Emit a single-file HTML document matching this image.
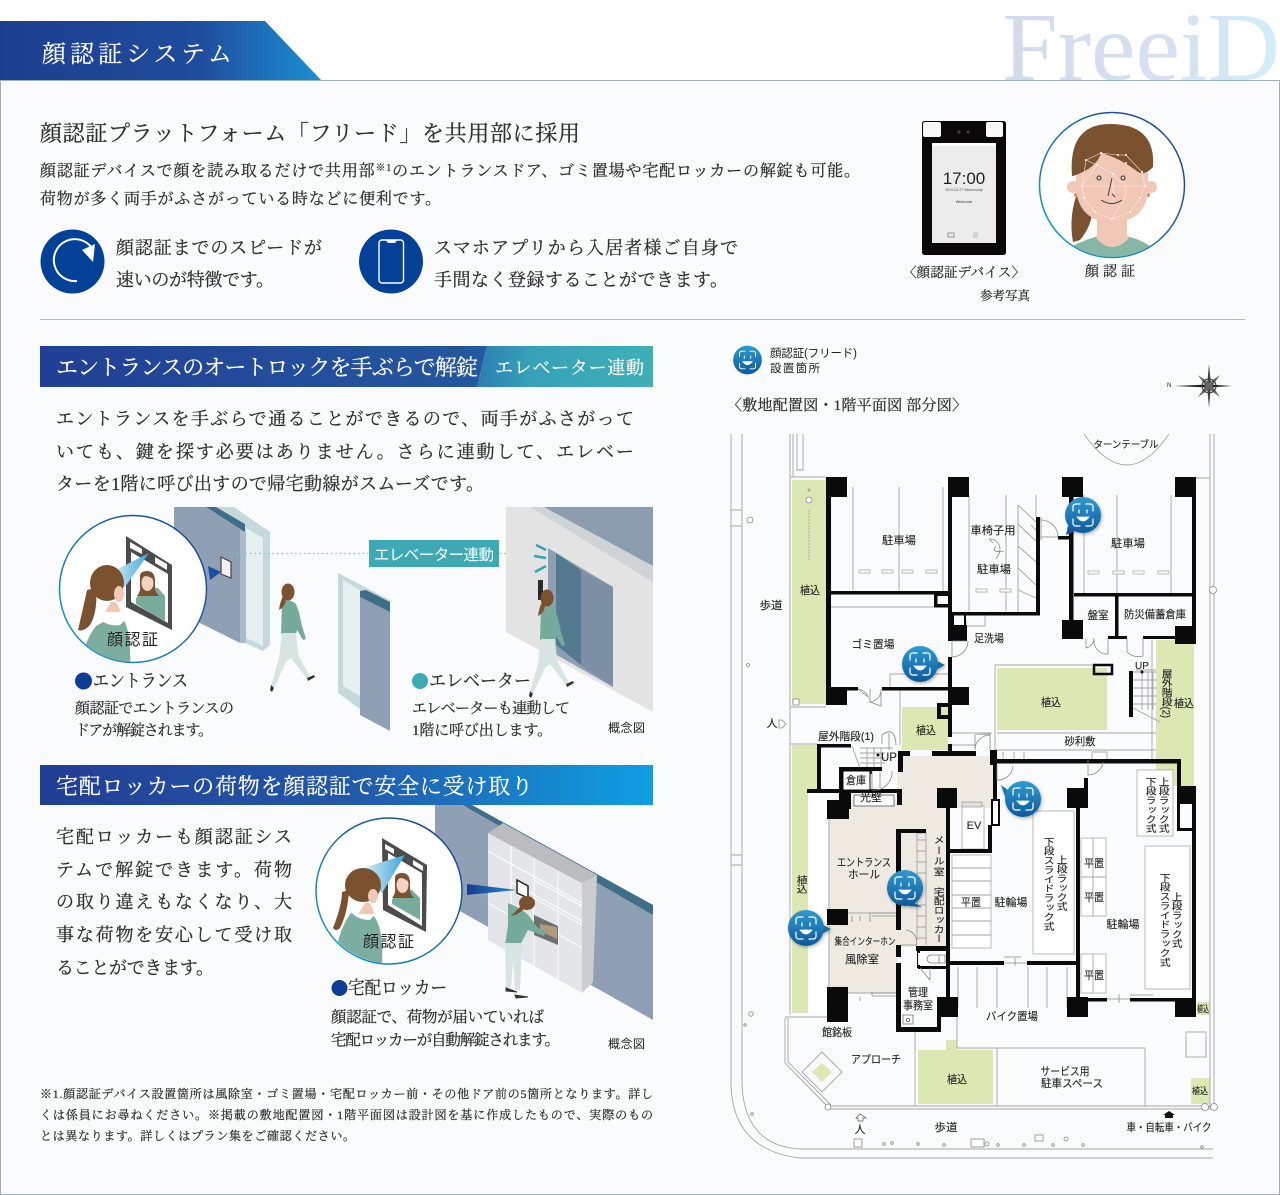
<!DOCTYPE html>
<html lang="ja">
<head>
<meta charset="utf-8">
<title>顔認証システム</title>
<style>
html,body{margin:0;padding:0;background:#fff;width:1280px;height:1195px;overflow:hidden}
svg{display:block}
.s{font-family:"Liberation Serif","Noto Serif CJK JP","Noto Serif CJK SC",serif;fill:#2f2f2f;stroke:#2f2f2f;stroke-width:.25}
.w{fill:#fff;stroke:#fff;stroke-width:.2}
.g{font-family:"Liberation Sans","Noto Sans CJK JP",sans-serif;fill:#222}
.p text{font-family:"Liberation Sans","Noto Sans CJK JP",sans-serif;fill:#222;stroke:#222;stroke-width:.12;font-size:11px;text-anchor:middle}
.p text.v{writing-mode:vertical-rl;text-anchor:start;font-size:9.400px}
.t{fill:none;stroke:#a5a5a5;stroke-width:.9}
.d{fill:none;stroke:#8a8a8a;stroke-width:.8}
</style>
</head>
<body>
<svg xmlns="http://www.w3.org/2000/svg" width="1280" height="1195" viewBox="0 0 1280 1195">
<defs>
<linearGradient id="hd" x1="0" x2="1" y1="0" y2="0"><stop offset="0" stop-color="#1e3f90"/><stop offset=".62" stop-color="#1f4c9d"/><stop offset="1" stop-color="#1b8fd2"/></linearGradient>
<linearGradient id="fr" x1="0" x2="1" y1="0" y2="0"><stop offset="0" stop-color="#d4dcec"/><stop offset=".6" stop-color="#d6e0f0"/><stop offset="1" stop-color="#d2eef8"/></linearGradient>
<linearGradient id="b1" x1="0" x2="1" y1="0" y2="0"><stop offset="0" stop-color="#223f95"/><stop offset="1" stop-color="#24589f"/></linearGradient>
<linearGradient id="b1t" x1="0" x2="1" y1="0" y2="0"><stop offset="0" stop-color="#2b7eb2"/><stop offset=".3" stop-color="#37a1b8"/><stop offset="1" stop-color="#3eb0b6"/></linearGradient>
<linearGradient id="b2" x1="0" x2="1" y1="0" y2="0"><stop offset="0" stop-color="#213e94"/><stop offset=".5" stop-color="#2358a8"/><stop offset="1" stop-color="#0e9fe2"/></linearGradient>
<linearGradient id="ring" x1="0" x2="1" y1="1" y2="0"><stop offset="0" stop-color="#12a0d8"/><stop offset="1" stop-color="#1e3a8c"/></linearGradient>
<linearGradient id="bub" x1="0" x2="0" y1="0" y2="1"><stop offset="0" stop-color="#2f9bcf"/><stop offset="1" stop-color="#0e5a9b"/></linearGradient>
<linearGradient id="tri" x1="0" x2="1" y1="0" y2="0"><stop offset="0" stop-color="#1c3b8f"/><stop offset="1" stop-color="#1d8ccb"/></linearGradient>
<linearGradient id="beam" x1="1" x2="0" y1="0" y2="0"><stop offset="0" stop-color="#3fa5d8"/><stop offset="1" stop-color="#d6eef8"/></linearGradient>
<clipPath id="clipA"><circle cx="133" cy="589" r="73"/></clipPath>
<clipPath id="clipB"><circle cx="389" cy="891" r="72"/></clipPath>
<clipPath id="clipC"><circle cx="1112" cy="185" r="72"/></clipPath>
<clipPath id="clipTop"><rect x="990" y="0" width="290" height="80"/></clipPath>
<filter id="sh" x="-30%" y="-30%" width="160%" height="160%"><feDropShadow dx="1" dy="1.500" stdDeviation="1.500" flood-color="#000" flood-opacity=".3"/></filter>

<g id="face">
<circle r="18" fill="url(#bub)"/>
<g fill="none" stroke="#fff" stroke-width="1.200" stroke-linecap="round">
<path d="M-10-4V-8Q-10-11-7-11H-3M3-11H7Q10-11 10-8V-4M10 4V8Q10 11 7 11H3M-3 11H-7Q-10 11-10 8V4"/>
<path d="M-6 2Q0 10 6 2Z" fill="#fff" stroke-width=".8"/>
<path d="M-4-5V-2M4-5V-2"/>
</g>
</g>

<g id="walker">
<path d="M-7 10Q0 6 7 12L10 20L13 34L17 47L14 48L8 38L7 42L-8 42Z" fill="#74ab9b"/>
<path d="M-7 41H7L9 62L21 85L18 87L2 66L-3 70L-15 96L-18 94L-10 66Z" fill="#d8e4e2"/>
<path d="M18 86L25 83L26 85L19 89ZM-18 93L-15 96L-17 100L-19 98Z" fill="#333"/>
<path d="M-6 4Q-9 10-10 18Q-4 15-3 8Z" fill="#7a5230"/>
<ellipse cx="-1" cy="0" rx="6.500" ry="8.500" fill="#7a5230"/>
</g>

<g id="mirror">
<path d="M-1 5C-1-3 13-3 14 6V13Q14 18 18 22H-4Q0 17-1 12Z" fill="#7a5230"/>
<ellipse cx="6.500" cy="9" rx="6" ry="8" fill="#f3d2c2"/>
<path d="M-1 4Q6-1 14 7Q14-3 6-3Q-2-3-1 4Z" fill="#7a5230"/>
</g>
</defs>

<!-- background / header -->
<rect width="1280" height="1195" fill="#fff"/>
<rect x=".5" y="80.500" width="1279" height="1114" fill="#fafbfd" stroke="#9fb0bf"/>
<text x="1002" y="80" font-family="Liberation Serif" font-size="98" textLength="278" lengthAdjust="spacingAndGlyphs" fill="url(#fr)" clip-path="url(#clipTop)">FreeiD</text>
<polygon points="0,21 265,21 321,80 0,80" fill="url(#hd)"/>
<text class="s w" x="42" y="62" font-size="24" textLength="190">顔認証システム</text>

<!-- intro -->
<text class="s" x="40" y="141" font-size="22" textLength="540">顔認証プラットフォーム「フリード」を共用部に採用</text>
<text class="s" x="40" y="176" font-size="16" textLength="820">顔認証デバイスで顔を読み取るだけで共用部<tspan font-size="10" dy="-5">※1</tspan><tspan dy="5">のエントランスドア、ゴミ置場や宅配ロッカーの解錠も可能。</tspan></text>
<text class="s" x="40" y="204" font-size="16" textLength="401">荷物が多く両手がふさがっている時などに便利です。</text>

<circle cx="72.500" cy="261.500" r="32" fill="#034098"/>
<path d="M92 248A21 21 0 1 0 77 281" fill="none" stroke="#fff" stroke-width="2"/>
<path d="M82 250L95 244L93 262Z" fill="#fff"/>
<text class="s" x="116" y="254" font-size="18" textLength="206">顔認証までのスピードが</text>
<text class="s" x="116" y="286" font-size="18" textLength="158">速いのが特徴です。</text>
<circle cx="391" cy="261.500" r="32" fill="#034098"/>
<rect x="379" y="240" width="24.500" height="43" rx="3" fill="none" stroke="#fff" stroke-width="1.400"/>
<path d="M386 240.500H397L395 243H388Z" fill="#fff"/>
<text class="s" x="434" y="254" font-size="18" textLength="304">スマホアプリから入居者様ご自身で</text>
<text class="s" x="434" y="286" font-size="18" textLength="294">手間なく登録することができます。</text>

<!-- device -->
<rect x="922" y="121" width="84" height="134" rx="2.500" fill="#0a0808"/>
<rect x="923" y="122" width="18" height="15" rx="2" fill="#f8f8f8"/>
<rect x="986" y="122" width="17" height="15" rx="2" fill="#f8f8f8"/>
<circle cx="959" cy="132" r="1.500" fill="#444"/><circle cx="968" cy="132" r="1.500" fill="#444"/>
<rect x="932" y="143" width="64" height="100" fill="#ececec"/>
<rect x="932" y="143" width="64" height="3" fill="#fff"/>
<text class="g" x="964" y="184" font-size="17" text-anchor="middle">17:00</text>
<text class="g" x="964" y="191" font-size="3.500" text-anchor="middle" style="fill:#555">2019-03-27 Wednesday</text>
<text class="g" x="964" y="203" font-size="4" text-anchor="middle" style="fill:#333">Welcome</text>
<rect x="948" y="233" width="6" height="4" fill="none" stroke="#777" stroke-width=".7"/>
<path d="M973 233h5M973 235h5M973 237h5" stroke="#888" stroke-width=".6"/>

<!-- face -->
<circle cx="1112" cy="185" r="72.500" fill="#fff" stroke="url(#ring)" stroke-width="1.500"/>
<g clip-path="url(#clipC)">
<path d="M1079 188Q1068 215 1073 242L1080 240Q1092 226 1093 207Z" fill="#7a5230"/>
<path d="M1072 246Q1090 238 1099 236Q1112 250 1125 236Q1138 238 1150 246V262H1072Z" fill="#86b6a6"/>
<path d="M1097 210H1127V232Q1127 236 1129 238Q1112 256 1096 238Q1097 236 1097 232Z" fill="#f1c8b6"/>
<circle cx="1073" cy="187" r="6" fill="#f1c8b6"/><circle cx="1151" cy="187" r="6" fill="#f1c8b6"/>
<circle cx="1076" cy="195" r="2" fill="#dc8c55"/><circle cx="1148" cy="195" r="2" fill="#dc8c55"/>
<path d="M1076 172V190Q1080 222 1112 222Q1146 222 1148 190V172Q1112 130 1076 172Z" fill="#f1c8b6"/>
<path d="M1072 176Q1068 124 1110 124Q1156 124 1153 167Q1145 176 1138 172Q1120 158 1101 153Q1097 168 1073 176Z" fill="#7a5230"/>
<g fill="none" stroke="#fbe9e1" stroke-width=".6">
<path d="M1086 160L1101 153L1118 155L1126 155L1142 172L1145 186L1140 198L1130 212L1112 219L1095 212L1084 198L1082 186L1086 160L1097 165L1113 174L1126 186L1125 198L1112 219M1097 165L1082 186L1113 186L1145 186M1113 174V205M1095 212L1084 198"/>
</g>
<g fill="#fff"><circle cx="1086" cy="160" r="1"/><circle cx="1101" cy="153" r="1"/><circle cx="1118" cy="155" r="1"/><circle cx="1126" cy="155" r="1"/><circle cx="1126" cy="163" r="1"/><circle cx="1142" cy="172" r="1"/><circle cx="1145" cy="186" r="1"/><circle cx="1140" cy="198" r="1"/><circle cx="1112" cy="219" r="1"/><circle cx="1095" cy="212" r="1"/><circle cx="1130" cy="212" r="1"/><circle cx="1084" cy="198" r="1"/><circle cx="1082" cy="186" r="1"/><circle cx="1113" cy="174" r="1"/><circle cx="1097" cy="165" r="1"/></g>
<circle cx="1099" cy="178" r="2" fill="none" stroke="#333" stroke-width="1"/>
<circle cx="1123" cy="178" r="2" fill="none" stroke="#333" stroke-width="1"/>
<path d="M1112 178L1108 196M1112 194L1115 197M1101 200Q1112 207 1122 200" fill="none" stroke="#333" stroke-width=".9"/>
</g>
<text class="s" x="903" y="277" font-size="13.500" textLength="122">〈顔認証デバイス〉</text>
<text class="s" x="1085" y="276" font-size="14" textLength="50">顔 認 証</text>
<text class="s" x="980" y="300" font-size="12.500" textLength="50">参考写真</text>

<line x1="40" x2="1245" y1="319.500" y2="319.500" stroke="#a9bfce"/>

<!-- section 1 -->
<polygon points="40,346 487,346 477,387 40,387" fill="url(#b1)"/>
<polygon points="487,346 653,346 653,387 477,387" fill="url(#b1t)"/>
<text class="s w" x="56" y="375" font-size="22" textLength="422">エントランスのオートロックを手ぶらで解錠</text>
<text class="s w" x="495" y="374" font-size="18" textLength="149">エレベーター連動</text>
<text class="s" x="56" y="425" font-size="18" textLength="578">エントランスを手ぶらで通ることができるので、両手がふさがって</text>
<text class="s" x="56" y="458" font-size="18" textLength="578">いても、鍵を探す必要はありません。さらに連動して、エレベー</text>
<text class="s" x="56" y="490" font-size="18" textLength="428">ターを1階に呼び出すので帰宅動線がスムーズです。</text>

<!-- illustration 1 -->
<polygon points="216,507 234,507 270,532 270,645 263,651 245,643" fill="#c5d9dc"/>
<polygon points="246,528 263,538 263,646 246,638" fill="#e6f0f1"/>
<polygon points="174,507 206,507 245,532 240,643 198,622 174,560" fill="#8f9fb4"/>
<polygon points="206,507 216,507 245,524 245,532" fill="#3f6f88"/>
<polygon points="240,530 246,532 246,643 240,643" fill="#acbac8"/>
<polygon points="221,557 231,562 231,578 221,574" fill="#f1f1f1" stroke="#444" stroke-width="1.200"/>
<polygon points="208,566 221,572 210,580" fill="#1b4ea0"/>
<line x1="232" x2="368" y1="553.500" y2="553.500" stroke="#7cc3cc" stroke-width="1.200" stroke-dasharray="1.500 3"/>
<rect x="369" y="540" width="130" height="27" fill="#3ca9b5"/>
<text class="g" x="374" y="560" font-size="15.500" textLength="120" style="fill:#fff">エレベーター連動</text>
<line x1="500" x2="525" y1="553.500" y2="553.500" stroke="#7cc3cc" stroke-width="1.200" stroke-dasharray="1.500 3"/>
<polygon points="525,551 530,553.500 525,556" fill="#3ca9b5"/>

<polygon points="506,507 653,507 653,712 506,632" fill="#e3e3e3"/>
<polygon points="530,507 653,507 653,582" fill="#cfd3d6"/>
<polygon points="544,507 653,507 653,566" fill="#8d9db0"/>
<polygon points="548,548 613,587 613,687 548,650" fill="#8f9fb3"/>
<polygon points="556,553 581,570 581,665 556,645" fill="#557a90"/>
<polygon points="581,570 613,587 613,687 581,665" fill="#7d8fa4"/>
<rect x="538" y="580" width="5" height="20" fill="#2a2a2a"/>
<g stroke="#2fa5b5" stroke-width="2.500"><path d="M546 550L536 545M546 558L534 556M546 566L535 572"/></g>

<polygon points="338,573 390,600 390,731 338,693" fill="#c5d9dc"/>
<polygon points="343,580 360,590 360,696 343,686" fill="#e6f0f1"/>
<polygon points="360,597 390,612 390,731 360,715" fill="#8f9fb4"/>
<polygon points="360,591 366,590 390,602 390,612 360,597" fill="#3f6f88"/>

<use href="#walker" x="289" y="592"/>
<use href="#walker" x="548" y="598"/>

<circle cx="133" cy="589" r="73.500" fill="#fff" stroke="url(#ring)" stroke-width="1.500"/>
<g clip-path="url(#clipA)">
<polygon points="126,536 172,565 172,630 126,607" fill="#4c4c4c"/>
<polygon points="131,552 168,574 168,623 131,602" fill="#fff"/>
<polygon points="130,542 142,549 142,554 130,548" fill="#fff"/>
<polygon points="155,557 167,564 167,570 155,563" fill="#fff"/>
<polygon points="136,598 142,592 150,588 158,588 165,596 165,622 136,604" fill="#79ab9c"/>
<use href="#mirror" x="141" y="574"/>
<polygon points="149,553 112,572 125,587" fill="url(#beam)"/>
<path d="M80 670Q84 640 96 626L118 614Q132 622 130 670Z" fill="#7cae9f"/>
<path d="M98 618Q112 606 127 618L120 625Q108 627 98 618Z" fill="#fff"/>
<ellipse cx="107" cy="583" rx="17" ry="18" fill="#7a5230"/>
<ellipse cx="119" cy="594" rx="5" ry="8" fill="#f1c8b6"/>
<path d="M111 602Q118 600 120 612H105Z" fill="#f1c8b6"/>
<path d="M96 588Q98 612 90 625Q84 632 78 630Q84 604 87 590Z" fill="#7a5230"/>
</g>
<text class="g" x="107" y="645" font-size="16" textLength="51">顔認証</text>

<circle cx="83.500" cy="681" r="8.500" fill="#0e3d94"/>
<text class="s" x="93" y="687" font-size="18" textLength="95" lengthAdjust="spacingAndGlyphs">エントランス</text>
<text class="s" x="75" y="713" font-size="15" textLength="159">顔認証でエントランスの</text>
<text class="s" x="75" y="735" font-size="15" textLength="138">ドアが解錠されます。</text>
<circle cx="420" cy="681" r="8" fill="#3caab5"/>
<text class="s" x="429" y="687" font-size="18" textLength="102" lengthAdjust="spacingAndGlyphs">エレベーター</text>
<text class="s" x="412" y="713" font-size="15" textLength="158">エレベーターも連動して</text>
<text class="s" x="412" y="735" font-size="15" textLength="140">1階に呼び出します。</text>
<text class="g" x="608" y="732" font-size="12" textLength="37">概念図</text>

<!-- section 2 -->
<rect x="40" y="765" width="613" height="40" fill="url(#b2)"/>
<text class="s w" x="56" y="794" font-size="22" textLength="477">宅配ロッカーの荷物を顔認証で安全に受け取り</text>
<text class="s" x="56" y="843" font-size="18" textLength="236">宅配ロッカーも顔認証シス</text>
<text class="s" x="56" y="876" font-size="18" textLength="236">テムで解錠できます。荷物</text>
<text class="s" x="56" y="908" font-size="18" textLength="236">の取り違えもなくなり、大</text>
<text class="s" x="56" y="941" font-size="18" textLength="236">事な荷物を安心して受け取</text>
<text class="s" x="56" y="974" font-size="18" textLength="158">ることができます。</text>

<!-- illustration 2 -->
<polygon points="435,805 465,805 653,912 653,1020 435,897" fill="#8f9fb4"/>
<polygon points="463,805 472,805 653,905 653,915" fill="#3f6f88"/>
<polygon points="488,833 582,883 582,993 488,940" fill="#e4e5e8"/>
<polygon points="488,833 503,823 597,875 582,883" fill="#babcbf"/>
<polygon points="582,883 597,875 593,982 582,993" fill="#cbcdd0"/>
<g stroke="#fff" stroke-width="1" fill="none">
<path d="M511 846V953M534 858V966M558 871V980M488 851L582 903M511 864L534 877M534 880L582 906M511 882L582 921M534 898L582 925M488 903L511 916M534 920L582 948"/>
</g>
<polygon points="534,915 558,926 558,945 534,935" fill="#6f6f6f"/>
<polygon points="540,924 557,927 557,939 540,931" fill="#b39a7d"/>
<polygon points="517,880 528,886 528,898 517,893" fill="#fff" stroke="#222" stroke-width="1.500"/>
<polygon points="467,884 517,890 467,895" fill="url(#tri)"/>
<path d="M508 903Q524 910 528 915L538 928L546 932L544 936L528 930L520 945H505L508 925Z" fill="#74ab9b"/>
<path d="M505 943H522L520 990H515L513 960L511 990H506Z" fill="#d8e4e2"/>
<path d="M506 988L517 992L506 991ZM515 995L528 997L516 998Z" fill="#333" stroke="#333"/>
<ellipse cx="527" cy="903" rx="8" ry="7" fill="#7a5230"/>
<path d="M521 906Q516 911 511 916Q518 915 524 909Z" fill="#7a5230"/>

<circle cx="389" cy="891" r="73" fill="#fff" stroke="url(#ring)" stroke-width="1.500"/>
<g clip-path="url(#clipB)">
<polygon points="382,838 427,865 426,932 383,910" fill="#4c4c4c"/>
<polygon points="388,853 422,873 422,926 388,905" fill="#fff"/>
<polygon points="385,844 394,849 394,854 385,849" fill="#fff"/>
<polygon points="413,860 423,866 423,871 413,865" fill="#fff"/>
<polygon points="392,900 396,893 404,890 412,890 420,898 420,920 392,904" fill="#79ab9c"/>
<use href="#mirror" x="396" y="876"/>
<polygon points="405,855 363,868 382,893" fill="url(#beam)"/>
<path d="M334 960Q340 925 352 912L372 914Q384 925 382 965Z" fill="#7cae9f"/>
<path d="M351 912Q362 905 375 914L370 920Q358 920 351 912Z" fill="#fff"/>
<ellipse cx="363" cy="885" rx="18" ry="17" fill="#7a5230"/>
<ellipse cx="373" cy="896" rx="5" ry="7" fill="#f1c8b6"/>
<path d="M366 902Q372 902 374 914H358Z" fill="#f1c8b6"/>
<path d="M349 890Q348 912 340 928Q336 932 333 928Q342 905 342 892Z" fill="#7a5230"/>
</g>
<text class="g" x="363" y="947" font-size="16" textLength="51">顔認証</text>

<circle cx="339.500" cy="988" r="8" fill="#0e3d94"/>
<text class="s" x="348" y="994" font-size="18" textLength="99" lengthAdjust="spacingAndGlyphs">宅配ロッカー</text>
<text class="s" x="331" y="1022" font-size="15.500" textLength="213">顔認証で、荷物が届いていれば</text>
<text class="s" x="331" y="1045" font-size="15.500" textLength="229">宅配ロッカーが自動解錠されます。</text>
<text class="g" x="608" y="1048" font-size="12" textLength="37">概念図</text>

<!-- footnote -->
<text x="40" y="1098" font-size="12" textLength="613" class="s">※1.顔認証デバイス設置箇所は風除室・ゴミ置場・宅配ロッカー前・その他ドア前の5箇所となります。詳し</text>
<text x="40" y="1119" font-size="12" textLength="613" class="s">くは係員にお尋ねください。※掲載の敷地配置図・1階平面図は設計図を基に作成したもので、実際のもの</text>
<text x="40" y="1140" font-size="12" textLength="315" class="s">とは異なります。詳しくはプラン集をご確認ください。</text>

<!-- legend -->
<g transform="translate(747.500,360) scale(.8)"><use href="#face"/></g>
<text class="g" x="770" y="357" font-size="11.500" textLength="87">顔認証(フリード)</text>
<text class="g" x="770" y="372" font-size="11.500" textLength="50">設置箇所</text>
<text class="s" x="727" y="410" font-size="15" textLength="240">〈敷地配置図・1階平面図 部分図〉</text>
<!-- compass -->
<g fill="#222"><text class="g" x="1167" y="387" font-size="6">N</text>
<polygon points="1174,386 1209,384.500 1232,386 1209,387.500"/>
<polygon points="1209,364 1211,384 1209,408 1207,386" fill="#444"/>
<polygon points="1198,375 1211,384 1220,397 1207,388" fill="#666"/>
<polygon points="1220,375 1211,388 1198,397 1207,384" fill="#666"/>
<circle cx="1209" cy="386" r="7" fill="none" stroke="#333"/></g>

<!-- floor plan -->
<g class="p">
<!-- fills -->
<g fill="#dce8b4">
<rect x="792" y="480" width="34" height="224"/>
<rect x="997" y="668" width="110" height="62"/>
<rect x="1156" y="640" width="38" height="146"/>
<rect x="902" y="707" width="46" height="43"/>
<path d="M792 745H817V790H808V1013H792Z"/>
<path d="M918 1050H946V1040H957V1050H993V1104H918Z"/>
<rect x="1191" y="1078" width="19" height="26"/>
<rect x="1197" y="1002" width="13" height="13"/>
<polygon points="822,1063 832,1072 822,1082 812,1072"/>
</g>
<path d="M829 800H897V993H829Z M897 760H946V947H897Z M903 756H993V808H903Z" fill="#eeeae2"/>
<rect x="808" y="800" width="19" height="213" fill="#fff"/>

<!-- thin lines -->
<g class="t">
<path d="M731 434V1085Q733 1150 800 1158H1213M742 434V1085Q745 1146 800 1149H1213"/>
<path d="M790 434V1015M793 434V477M797 434V470H803V434M790 477H826M1196 478H1210"/>
<path d="M1210 434V1108M1214 434V1108M731 510H742M731 526H742M731 855H742M731 865H742"/>
<path d="M785 1018V1063L828 1107M788 1018V1062L831 1105M785 1017H827"/>
<path d="M830 1106H1213M830 1109H1213"/>
<path d="M957 1017V1048H1145V1107M997 1048V1107M915 1027V1106"/>
<rect x="1186" y="1032" width="20" height="25"/>
<polygon points="822,1052 842,1072 822,1092 802,1072"/>
<path d="M790 707H826M790 744H817M1136 670H1156M1152 640V760M995 665H1092M995 665V750M995 750H1156M997 733H1156"/>
<path d="M831 607H934M853 487V591M899 487V591M943 487V591M1006 495V611M1036 495V517M1117 495V593M1171 495V593M969 495V611M1084 495V593"/>
<path d="M1031 525L1036 530M1018 505L1036 522M1018 524L1036 541M1018 546L1036 562M1018 568L1036 585M1018 590L1036 598M1018 505V612"/>
<path d="M890 674H948M890 674V687"/>
<path d="M900 690V745M948 733H992M948 745H975"/>
<path d="M1003 752V760H1014V752M1024 752V760H1092V752M1092 752H1107V760H1092"/>
<path d="M966 620V640M955 615H985V626H966"/>
</g>
<g fill="#fff" stroke="#aaa" stroke-width=".8">
<rect x="859" y="570" width="11" height="3"/><rect x="882" y="570" width="11" height="3"/><rect x="902" y="570" width="11" height="3"/><rect x="926" y="570" width="11" height="3"/>
<rect x="976" y="589" width="11" height="3"/><rect x="1000" y="589" width="11" height="3"/>
<rect x="1088" y="571" width="11" height="3"/><rect x="1113" y="571" width="11" height="3"/><rect x="1133" y="571" width="11" height="3"/><rect x="1158" y="571" width="11" height="3"/>
<rect x="1033" y="811" width="41" height="143"/>
<rect x="1081" y="838" width="25" height="78"/>
<rect x="1081" y="954" width="25" height="39"/>
<rect x="1137" y="770" width="36" height="66"/>
<rect x="1145" y="846" width="45" height="143"/>
<rect x="952" y="855" width="39" height="93"/>
<rect x="962" y="806" width="22" height="43"/>
</g>
<g class="t">
<path d="M952 868H991M952 881H991M952 895H991M952 908H991M952 921H991M952 935H991M1093 838V916M1081 877H1106M1093 954V993"/>
<path d="M958 967V1008M977 967V1008M997 967V1008M1028 967V1008M1047 967V1008M1067 967V1008"/>
<path d="M917 833H926V945M917 833V940M917 840H926M917 851H926M917 862H926M917 873H926M917 905H926M917 916H926M917 927H926M917 938H926"/>
<path d="M829 800V993M829 913H896M829 993H896"/>
<path d="M852 746L860 768M860 748H893M860 753H885M860 758H885M860 763H885M867 748V771M874 748V771M881 748V771"/>
<path d="M1142 672V710M1148 672V710M1153 672V710M1133 672H1156M1133 680H1156M1133 688H1156M1133 696H1156M1133 704H1156M1133 708L1160 722"/>
<path d="M809 510V560" stroke-dasharray="2 1"/>
<path d="M1084 434Q1127 496 1169 434"/>
</g>
<g fill="#fff" stroke="#888" stroke-width=".8">
<circle cx="750" cy="520" r="3"/><circle cx="1213" cy="590" r="3.500"/><circle cx="809" cy="500" r="3"/><circle cx="809" cy="490" r="1"/><circle cx="748" cy="665" r="1.500"/>
<circle cx="751" cy="1014" r="2.200"/><circle cx="745" cy="1025" r="1.200"/><circle cx="752" cy="1114" r="1.300"/><circle cx="828" cy="1107" r="3"/>
<circle cx="1205" cy="1107" r="3.500"/><circle cx="1214" cy="1107" r="3.500"/>
<rect x="854" y="1139" width="8" height="8"/><rect x="971" y="1139" width="13" height="8"/><rect x="1035" y="1135" width="8" height="6"/>
<circle cx="884" cy="1144" r="1.300"/><circle cx="892" cy="1143" r="1.300"/><circle cx="918" cy="1144" r="1.300"/><circle cx="944" cy="1145" r="1.300"/><circle cx="987" cy="1144" r="2"/><circle cx="998" cy="1145" r="1.300"/><circle cx="1024" cy="1145" r="1.300"/><circle cx="1053" cy="1145" r="1.300"/><circle cx="1066" cy="1139" r="2"/><circle cx="1083" cy="1145" r="1.300"/><circle cx="1202" cy="1147" r="1.300"/>
<polygon points="782,720 786,724 782,728 779,728 779,720"/></g>

<!-- walls -->
<g fill="#0a0a0a">
<rect x="826" y="477" width="21" height="20"/><rect x="948" y="477" width="21" height="20"/>
<rect x="1062" y="477" width="21" height="20"/><rect x="1175" y="477" width="21" height="20"/>
<rect x="826" y="687" width="21" height="18"/><rect x="948" y="687" width="21" height="18"/>
<rect x="1062" y="620" width="21" height="19"/><rect x="1175" y="626" width="21" height="18"/>
<rect x="948" y="625" width="19" height="16"/>
<rect x="827" y="800" width="22" height="19"/><rect x="827" y="909" width="21" height="16"/><rect x="827" y="987" width="21" height="35"/>
<rect x="937" y="788" width="20" height="20"/><rect x="1067" y="788" width="21" height="20"/><rect x="1177" y="786" width="19" height="18"/>
<rect x="1067" y="997" width="21" height="20"/><rect x="1175" y="998" width="21" height="19"/><rect x="937" y="997" width="21" height="20"/>
<rect x="826" y="477" width="5" height="228"/>
<rect x="948" y="477" width="4" height="164"/>
<rect x="831" y="591" width="117" height="3.500"/>
<rect x="952" y="612" width="88" height="3.500"/>
<rect x="1036" y="517" width="4" height="98"/>
<rect x="1058" y="536" width="11" height="3.500"/>
<rect x="1069" y="490" width="4.500" height="130"/>
<rect x="1074" y="593" width="118" height="3.500"/>
<rect x="1192" y="477" width="4" height="150"/>
<rect x="1115" y="596" width="3.500" height="42"/>
<rect x="1108" y="636" width="19" height="3"/><rect x="1143" y="636" width="32" height="3"/>
<rect x="948" y="657" width="4" height="30"/>
<rect x="847" y="687" width="11" height="3.500"/><rect x="882" y="687" width="66" height="3.500"/>
<rect x="948" y="705" width="4" height="32"/><rect x="948" y="744" width="4" height="10"/>
<rect x="932" y="751" width="44" height="5"/>
<rect x="898" y="751" width="12" height="5"/>
<rect x="898" y="752" width="5" height="20"/>
<rect x="1094" y="665" width="18" height="9" fill="none" stroke="#0a0a0a" stroke-width="2.500"/>
<rect x="1129" y="671" width="4" height="46"/>
<rect x="990" y="750" width="7" height="15"/>
<rect x="997" y="759" width="180" height="4.500"/>
<rect x="1177" y="759" width="4" height="30"/>
<rect x="993" y="765" width="4" height="60"/>
<rect x="817" y="744" width="4" height="46"/>
<rect x="817" y="744" width="34" height="3.500"/>
<rect x="839" y="767" width="4" height="23"/><rect x="839" y="767" width="43" height="4"/>
<rect x="807" y="789" width="95" height="4"/>
<rect x="897" y="789" width="5" height="16"/>
<rect x="839" y="789" width="12" height="20"/>
<rect x="867" y="771" width="5" height="3"/>
<rect x="946" y="808" width="4" height="157"/>
<rect x="950" y="849" width="42" height="4"/>
<rect x="988" y="825" width="4" height="25"/>
<rect x="992" y="800" width="7" height="25" fill="#fff" stroke="#0a0a0a" stroke-width="2"/>
<rect x="1084" y="778" width="4" height="12"/>
<rect x="1076" y="808" width="4" height="190"/>
<rect x="1192" y="804" width="4" height="196"/>
<rect x="1177" y="828" width="15" height="3"/><rect x="1177" y="804" width="3" height="26"/>
<rect x="950" y="961" width="54" height="4"/><rect x="1027" y="961" width="49" height="4"/>
<rect x="1088" y="998" width="19" height="3.500"/><rect x="1130" y="998" width="45" height="3.500"/>
<rect x="946" y="965" width="4" height="32"/>
<rect x="896" y="829" width="30" height="4"/>
<rect x="896" y="830" width="5" height="100"/>
<rect x="896" y="945" width="5" height="12"/>
<rect x="896" y="963" width="5" height="69"/>
<rect x="896" y="1027" width="45" height="5"/>
<rect x="937" y="1013" width="4" height="19"/>
<rect x="916" y="946" width="31" height="5"/>
<rect x="917" y="951" width="3" height="17"/><rect x="918" y="966" width="28" height="3"/>
<rect x="934" y="593" width="14" height="3"/><rect x="934" y="593" width="3.500" height="14"/><rect x="934" y="604" width="14" height="3.500"/>
<rect x="952" y="615" width="2" height="10"/><rect x="964" y="615" width="2" height="10"/>
<rect x="937" y="703" width="12" height="4"/><rect x="937" y="703" width="4" height="16"/><rect x="937" y="715" width="12" height="4"/>
</g>
<!-- doors -->
<g class="d">
<path d="M952 641H966M952 641V657M952 657A16 16 0 0 0 968 641"/>
<path d="M1041 517V540M1058 537H1041M1058 537A17 17 0 0 0 1041 520"/>
<path d="M858 689L868 697A12 12 0 0 0 858 689M870 689V702A12 12 0 0 0 881 689M870 702L881 706V690"/>
<path d="M1086 638V648A10 10 0 0 0 1094 638M1108 638V654A13 13 0 0 1 1094 640"/>
<path d="M1127 638V652A16 16 0 0 0 1143 656V638"/>
<path d="M975 750V735Q975 734 990 734V750M975 750A15 15 0 0 1 990 735"/>
<path d="M882 744V735Q895 725 896 745M889 733V750"/>
<path d="M872 771V790A18 18 0 0 0 892 771M880 772V788"/>
<path d="M997 765V780A15 15 0 0 0 1013 766"/>
<path d="M1088 760V775A15 15 0 0 0 1103 762"/>
<path d="M906 930A12 12 0 0 1 916 946M901 945H916"/>
<path d="M920 968L930 980V968"/>
<path d="M1004 963H1027M1015 958V966M1130 999H1107M1119 994V1003M1004 957H1021M1130 995H1153"/>
<path d="M852 916V922M860 916V921M870 913V922M872 916H896M872 913H896M860 997V1001M872 996V992M872 996H896M872 993H896"/>
</g>
<rect x="918" y="953" width="27" height="12" fill="#fff"/>
<path d="M930 955H945V963H930Q924 959 930 955ZM939 955V963" fill="none" stroke="#777" stroke-width=".8"/>
<rect x="903" y="1015" width="10" height="9" fill="none" stroke="#777" stroke-width=".8"/><circle cx="908" cy="1020" r="1.600" fill="none" stroke="#777"/>
<rect x="962" y="802" width="20" height="5" fill="#ddd" stroke="#888" stroke-width=".6"/>
<rect x="854" y="795" width="40" height="11" fill="#fff" stroke="#555" stroke-width=".8"/>
<rect x="843" y="771" width="27" height="19" fill="#fff" stroke="#0a0a0a" stroke-width="1"/>
<path d="M993 545Q985 538 996 543Q1004 550 996 561M996 548Q990 555 1004 553" fill="none" stroke="#888" stroke-width=".8" transform="translate(0,-2)"/>
<rect x="793" y="699" width="6" height="6" fill="#fff" stroke="#666" stroke-width=".6"/>
<circle cx="1142" cy="672" r="1.500" fill="#111"/><circle cx="878" cy="755" r="1.500" fill="#111"/>
<path d="M856 1118L860 1114L866 1118H863V1121H858V1118Z" fill="#fff" stroke="#555" stroke-width=".7"/>
<path d="M1163 1115L1169 1111L1175 1115H1163ZM1165 1115H1173V1118H1165Z" fill="#111"/>

<!-- labels -->
<text x="899" y="544" textLength="34" lengthAdjust="spacingAndGlyphs">駐車場</text>
<text x="993" y="534" textLength="45" lengthAdjust="spacingAndGlyphs">車椅子用</text>
<text x="994" y="573" textLength="34" lengthAdjust="spacingAndGlyphs">駐車場</text>
<text x="1128" y="547" textLength="34" lengthAdjust="spacingAndGlyphs">駐車場</text>
<text x="810" y="594" textLength="20" lengthAdjust="spacingAndGlyphs">植込</text>
<text x="771" y="609" textLength="23" lengthAdjust="spacingAndGlyphs">歩道</text>
<text x="1098" y="619" textLength="21" lengthAdjust="spacingAndGlyphs">盤室</text>
<text x="1155" y="618" textLength="62" lengthAdjust="spacingAndGlyphs">防災備蓄倉庫</text>
<text x="873" y="648" textLength="43" lengthAdjust="spacingAndGlyphs">ゴミ置場</text>
<text x="989" y="642" textLength="30" lengthAdjust="spacingAndGlyphs">足洗場</text>
<text x="1142" y="669" style="font-size:10px">UP</text>
<text class="v" transform="translate(1165,669) scale(1.150,1)">屋外階段(2)</text>
<text x="1184" y="707" textLength="20" lengthAdjust="spacingAndGlyphs">植込</text>
<text x="1051" y="706" textLength="20" lengthAdjust="spacingAndGlyphs">植込</text>
<text x="1080" y="745" textLength="31" lengthAdjust="spacingAndGlyphs">砂利敷</text>
<text x="926" y="734" textLength="20" lengthAdjust="spacingAndGlyphs">植込</text>
<text x="772" y="727">人</text>
<text x="846" y="740" textLength="56" lengthAdjust="spacingAndGlyphs">屋外階段(1)</text>
<text x="889" y="761" style="font-size:11.500px">UP</text>
<text x="856" y="784" textLength="20" lengthAdjust="spacingAndGlyphs">倉庫</text>
<text x="871" y="801" textLength="22" lengthAdjust="spacingAndGlyphs">光壁</text>
<text x="974" y="829">EV</text>
<text x="864" y="866" textLength="54" lengthAdjust="spacingAndGlyphs">エントランス</text>
<text x="864" y="878" textLength="32" lengthAdjust="spacingAndGlyphs">ホール</text>
<text class="v" transform="translate(800,875) scale(1.150,1)">植込</text>
<text x="971" y="906" textLength="20" lengthAdjust="spacingAndGlyphs">平置</text>
<text x="1011" y="906" textLength="33" lengthAdjust="spacingAndGlyphs">駐輪場</text>
<text x="1094" y="867" textLength="20" lengthAdjust="spacingAndGlyphs">平置</text>
<text x="1094" y="901" textLength="20" lengthAdjust="spacingAndGlyphs">平置</text>
<text x="1094" y="979" textLength="20" lengthAdjust="spacingAndGlyphs">平置</text>
<text x="1123" y="928" textLength="33" lengthAdjust="spacingAndGlyphs">駐輪場</text>
<text x="865" y="945" style="font-size:10px" textLength="61" lengthAdjust="spacingAndGlyphs">集合インターホン</text>
<text x="862" y="963" textLength="34" lengthAdjust="spacingAndGlyphs">風除室</text>
<text x="918" y="996" textLength="20" lengthAdjust="spacingAndGlyphs">管理</text>
<text x="918" y="1009" textLength="30" lengthAdjust="spacingAndGlyphs">事務室</text>
<text x="1012" y="1020" textLength="52" lengthAdjust="spacingAndGlyphs">バイク置場</text>
<text x="837" y="1036" textLength="30" lengthAdjust="spacingAndGlyphs">館銘板</text>
<text x="876" y="1063" textLength="50" lengthAdjust="spacingAndGlyphs">アプローチ</text>
<text x="1065" y="1075" textLength="49" lengthAdjust="spacingAndGlyphs">サービス用</text>
<text x="1072" y="1087" textLength="62" lengthAdjust="spacingAndGlyphs">駐車スペース</text>
<text x="957" y="1083" textLength="20" lengthAdjust="spacingAndGlyphs">植込</text>
<text x="1200" y="1094" style="font-size:9px" textLength="16" lengthAdjust="spacingAndGlyphs">植込</text>
<text x="1203" y="1012" style="font-size:9px" textLength="12" lengthAdjust="spacingAndGlyphs">植込</text>
<text x="860" y="1133">人</text>
<text x="946" y="1131" textLength="23" lengthAdjust="spacingAndGlyphs">歩道</text>
<text x="1169" y="1131" textLength="85" lengthAdjust="spacingAndGlyphs">車・自転車・バイク</text>
<text x="1126" y="448" style="font-size:10px" textLength="65" lengthAdjust="spacingAndGlyphs">ターンテーブル</text>
<text class="v" transform="translate(937,835) scale(1.150,1)" letter-spacing="1.300">メール室</text>
<text class="v" transform="translate(937,887) scale(1.150,1)">宅配ロッカー</text>
<text class="v" transform="translate(1162,777) scale(1.150,1)">上段ラック式</text>
<text class="v" transform="translate(1149,777) scale(1.150,1)">下段ラック式</text>
<text class="v" transform="translate(1060,855) scale(1.150,1)">上段ラック式</text>
<text class="v" transform="translate(1047,837) scale(1.150,1)">下段スライドラック式</text>
<text class="v" transform="translate(1175,892) scale(1.150,1)">上段ラック式</text>
<text class="v" transform="translate(1163,873) scale(1.150,1)">下段スライドラック式</text>

<!-- bubbles -->
<g filter="url(#sh)">
<polygon points="1068,526 1066,535 1078,530" fill="#0f5a9b"/><use href="#face" x="1083" y="515"/>
<polygon points="935,660 945,665 934,671" fill="#1a6aa8"/><use href="#face" x="920" y="664"/>
<polygon points="1009,791 1001,785 1007,802" fill="#1b73ae"/><use href="#face" x="1023" y="799"/>
<polygon points="912,902 922,907 908,906" fill="#0f5a9b"/><use href="#face" x="905" y="888"/>
<polygon points="821,924 831,929 820,935" fill="#1a6aa8"/><use href="#face" x="806" y="928"/>
</g>
</g>
</svg>
</body>
</html>
